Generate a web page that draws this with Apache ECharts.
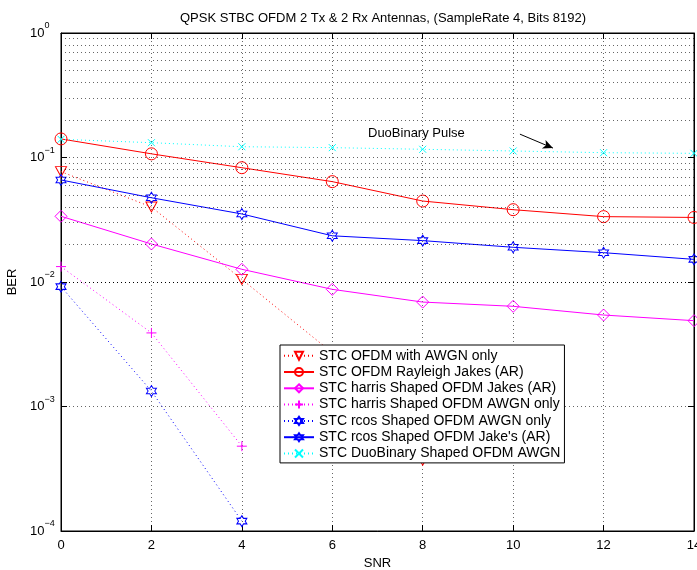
<!DOCTYPE html>
<html>
<head>
<meta charset="utf-8">
<script src="https://cdn.jsdelivr.net/npm/echarts@6/dist/echarts.min.js"></script>
<style>html,body{margin:0;padding:0;background:#fff;}#c{width:697px;height:570px;}</style>
</head>
<body>
<div id="c"></div>
<script>
const snr = [0, 2, 4, 6, 8, 10, 12, 14];
const xTicks = [0, 2, 4, 6, 8, 10, 12, 14];
const berAwgn = [0.077, 0.040, 0.0105, 0.0027, 0.00037];
const berRayleigh = [0.141, 0.107, 0.0828, 0.064, 0.0447, 0.0381, 0.0335, 0.033];
const berHarrisJakes = [0.0337, 0.0202, 0.01265, 0.00873, 0.0069, 0.00638, 0.00543, 0.00489];
const berHarrisAwgn = [0.0133, 0.0039, 0.00048];
const berRcosAwgn = [0.00918, 0.00133, 0.00012];
const berRcosJakes = [0.066, 0.0475, 0.0352, 0.0235, 0.0215, 0.019, 0.0172, 0.0152];
const berDuo = [0.14, 0.1315, 0.122, 0.12, 0.1164, 0.1128, 0.1093, 0.108];
const seriesNames = [
  'STC OFDM with AWGN only',
  'STC OFDM Rayleigh Jakes (AR)',
  'STC harris Shaped OFDM Jakes (AR)',
  'STC harris Shaped OFDM AWGN only',
  'STC rcos Shaped OFDM AWGN only',
  "STC rcos Shaped OFDM Jake's (AR)",
  'STC DuoBinary Shaped OFDM AWGN'
];
const titleText = 'QPSK STBC OFDM 2 Tx & 2 Rx Antennas, (SampleRate 4, Bits 8192)';
const annotationText = 'DuoBinary Pulse';
const annotationPos = [6.79, 0.157];
const arrowFrom = [10.15, 0.154];
const arrowTo = [10.88, 0.119];

const FONT = '"Liberation Sans", Arial, Helvetica, sans-serif';
const pair = arr => arr.map((v, i) => [snr[i], v]);

const SYM = {
  triDown: 'path://M0,0L10,0L5,9Z',
  hexagram: 'path://M5,0L6.44,2.5L9.33,2.5L7.89,5L9.33,7.5L6.44,7.5L5,10L3.56,7.5L0.67,7.5L2.11,5L0.67,2.5L3.56,2.5Z',
  plus: 'path://M0,5L10,5M5,0L5,10',
  cross: 'path://M0,0L10,10M0,10L10,0'
};

function mk(name, data, color, dashed, symbol, size) {
  return {
    name: name,
    type: 'line',
    data: pair(data),
    symbol: symbol,
    symbolSize: size,
    showAllSymbol: true,
    animation: false,
    lineStyle: { color: color, width: 1, type: dashed ? [1, 3] : 'solid' },
    itemStyle: { color: 'rgba(255,255,255,0)', borderColor: color, borderWidth: 1 },
    emphasis: { disabled: true },
    z: 3
  };
}

const minorVals = [];
for (let k = -4; k <= -1; k++) {
  for (let m = 2; m <= 9; m++) minorVals.push(+(m * Math.pow(10, k)).toPrecision(3));
}

const dotted = { color: '#000', width: 1, type: [1, 3], opacity: 0.6 };

const series = [
  {
    name: '__grid',
    type: 'line',
    data: [],
    silent: true,
    animation: false,
    z: 1,
    markLine: {
      silent: true,
      animation: false,
      symbol: ['none', 'none'],
      label: { show: false },
      lineStyle: dotted,
      emphasis: { disabled: true },
      data: minorVals.map(v => ({ yAxis: v }))
    }
  },
  mk(seriesNames[0], berAwgn, '#ff0000', true, SYM.triDown, [11, 10]),
  mk(seriesNames[1], berRayleigh, '#ff0000', false, 'circle', 12),
  mk(seriesNames[2], berHarrisJakes, '#ff00ff', false, 'diamond', 12),
  mk(seriesNames[3], berHarrisAwgn, '#ff00ff', true, SYM.plus, 10),
  mk(seriesNames[4], berRcosAwgn, '#0000ff', true, SYM.hexagram, [10, 11]),
  mk(seriesNames[5], berRcosJakes, '#0000ff', false, SYM.hexagram, [10, 11]),
  mk(seriesNames[6], berDuo, '#00ffff', true, SYM.cross, 7)
];

series[7].markLine = {
  silent: true,
  animation: false,
  symbol: ['none', 'arrow'],
  symbolSize: [7, 10],
  label: { show: false },
  lineStyle: { color: '#000', width: 1, type: 'solid' },
  emphasis: { disabled: true },
  data: [[{ coord: arrowFrom }, { coord: arrowTo }]]
};
series[7].markPoint = {
  silent: true,
  animation: false,
  symbol: 'circle',
  symbolSize: 0,
  data: [{
    coord: annotationPos,
    label: {
      show: true, position: [0, 0], align: 'left', verticalAlign: 'middle',
      formatter: annotationText, color: '#000', fontSize: 13, fontFamily: FONT
    }
  }]
};

const chart = echarts.init(document.getElementById('c'), null, { renderer: 'canvas' });
chart.setOption({
  backgroundColor: '#fff',
  animation: false,
  title: {
    text: titleText,
    left: 378, top: 7, textAlign: 'center',
    textStyle: { fontSize: 13, fontWeight: 'normal', color: '#000', fontFamily: FONT }
  },
  grid: {
    left: 61, top: 33, width: 633, height: 498,
    containLabel: false, outerBoundsMode: 'none',
    show: true, borderColor: '#000', borderWidth: 1, backgroundColor: '#fff'
  },
  legend: {
    orient: 'vertical',
    left: 280, top: 345,
    data: seriesNames,
    itemWidth: 30, itemHeight: 10, itemGap: 2.3,
    padding: [3.7, 4, 2.4, 3],
    borderColor: '#000', borderWidth: 1, backgroundColor: '#fff',
    selectedMode: false,
    textStyle: { fontSize: 14, color: '#000', fontFamily: FONT },
    z: 10
  },
  xAxis: [{
    type: 'value', min: 0, max: 14, interval: 2,
    name: 'SNR', nameLocation: 'middle', nameGap: 24,
    nameTextStyle: { fontSize: 13, color: '#000', fontFamily: FONT },
    axisLine: { show: true, onZero: false, lineStyle: { color: '#000', width: 1 } },
    axisTick: { show: true, inside: true, length: 6, lineStyle: { color: '#000' } },
    axisLabel: { fontSize: 13, color: '#000', fontFamily: FONT, margin: 8,
      formatter: v => xTicks.indexOf(v) >= 0 ? String(v) : '' },
    splitLine: { show: true, lineStyle: dotted }
  }, {
    type: 'value', min: 0, max: 14, interval: 2, position: 'top',
    axisLine: { show: true, onZero: false, lineStyle: { color: '#000', width: 1 } },
    axisTick: { show: true, inside: true, length: 6, lineStyle: { color: '#000' } },
    axisLabel: { show: false }, splitLine: { show: false }
  }],
  yAxis: [{
    type: 'log', logBase: 10, min: 1e-4, max: 1, splitNumber: 4,
    name: 'BER', nameLocation: 'middle', nameGap: 33, nameRotate: 90,
    nameTextStyle: { fontSize: 13, color: '#000', fontFamily: FONT },
    axisLine: { show: true, onZero: false, lineStyle: { color: '#000', width: 1 } },
    axisTick: { show: true, inside: true, length: 6, lineStyle: { color: '#000' } },
    axisLabel: {
      align: 'left', margin: 31, color: '#000', fontFamily: FONT,
      formatter: v => {
        const e = Math.round(Math.log10(v));
        return '{b|10}{s|' + (e < 0 ? '\u2212' + (-e) : String(e)) + '}';
      },
      rich: {
        b: { fontSize: 13, fontFamily: FONT, color: '#000' },
        s: { fontSize: 9, fontFamily: FONT, color: '#000', padding: [0, 0, 14, 0] }
      }
    },
    splitLine: { show: true, lineStyle: dotted }
  }, {
    type: 'log', logBase: 10, min: 1e-4, max: 1, splitNumber: 4, position: 'right',
    axisLine: { show: true, onZero: false, lineStyle: { color: '#000', width: 1 } },
    axisTick: { show: true, inside: true, length: 6, lineStyle: { color: '#000' } },
    axisLabel: { show: false }, splitLine: { show: false }
  }],
  series: series
});
</script>
</body>
</html>
